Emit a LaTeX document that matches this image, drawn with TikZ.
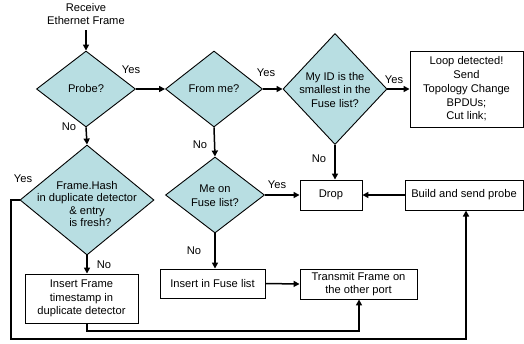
\documentclass[tikz,border=0pt]{standalone}
\usepackage{fontspec}
\setmainfont{Liberation Sans}
\usetikzlibrary{shapes.geometric,arrows.meta}
\definecolor{diafill}{RGB}{184,222,226}
\tikzset{
  x=1bp, y=-1bp,
  every node/.style={font=\fontsize{11.2}{13.8}\selectfont, inner sep=0pt, align=center},
  dia/.style={diamond, draw=black, line width=0.9bp, fill=diafill, inner sep=0pt},
  box/.style={rectangle, draw=black, line width=0.9bp, fill=white},
  conn/.style={line width=1.5bp, -{Triangle[length=6bp,width=6bp]}},
  plain/.style={line width=1.5bp},
  lbl/.style={font=\fontsize{11.2}{13.8}\selectfont}
}
\begin{document}
\begin{tikzpicture}
\useasboundingbox (0,0) rectangle (524,343);
% text start
\node (recv) at (86,14) {Receive\\Ethernet Frame};
% diamonds
\node[dia, minimum width=99bp, minimum height=76bp] (probe) at (86,89) {};
\node at (probe) {Probe?};
\node[dia, minimum width=97bp, minimum height=76bp] (fromme) at (214,89) {};
\node at (fromme) {From me?};
\node[dia, minimum width=104bp, minimum height=111bp] (myid) at (335,89) {};
\node at (335,90) {My ID is the\\smallest in the\\Fuse list?};
\node[dia, minimum width=134bp, minimum height=110bp] (hash) at (87,200) {};
\node[font=\fontsize{11.2}{12.4}\selectfont] at (87,204) {Frame.Hash\\in duplicate detector\\\& entry\\\hspace*{0.6em}is fresh?};
\node[dia, minimum width=99bp, minimum height=76bp] (meon) at (215,195) {};
\node at (215,196) {Me on\\Fuse list?};
% boxes
\node[box, minimum width=113bp, minimum height=76bp] (loop) at (466.5,89) {Loop detected!\\Send\\Topology Change\\BPDUs;\\Cut link;};
\node[box, minimum width=62bp, minimum height=30bp] (drop) at (331,195) {Drop};
\node[box, minimum width=118bp, minimum height=30bp] (build) at (464,195) {Build and send probe};
\node[box, minimum width=113bp, minimum height=49bp] (insf) at (81.5,298.5) {Insert Frame\\timestamp in\\duplicate detector};
\node[box, minimum width=105bp, minimum height=29bp] (insfuse) at (212.5,283.5) {Insert in Fuse list};
\node[box, minimum width=117bp, minimum height=30bp] (trans) at (358.5,284) {Transmit Frame on\\the other port};
% connectors
\draw[conn] (recv.south |- 0,30) -- (probe.north);
\draw[conn] (probe.east) -- (fromme.west);
\draw[conn] (fromme.east) -- (myid.west);
\draw[conn] (myid.east) -- (loop.west);
\draw[conn] (probe.south) -- (hash.north);
\draw[conn] (fromme.south) -- (meon.north);
\draw[conn] (myid.south) -- (myid.south |- drop.north);
\draw[conn] (meon.east) -- (drop.west);
\draw[conn] (build.west) -- (drop.east);
\draw[conn] (meon.south) -- (meon.south |- insfuse.north);
\draw[conn] (hash.south) -- (hash.south |- insf.north);
\draw[conn] (insfuse.east) -- (trans.west);
\coordinate (c1) at (11,339);
\draw[conn] (hash.west) -- (11,200) -- (c1) -- (466,339) -- (466,210.5);
\draw[conn] (87,323) -- (87,331) -- (359,331) -- (trans.south -| 359,0);
% labels
\node[lbl] at (131,70) {Yes};
\node[lbl] at (69,127) {No};
\node[lbl] at (266,73) {Yes};
\node[lbl] at (200,145) {No};
\node[lbl] at (394,80) {Yes};
\node[lbl] at (319,159) {No};
\node[lbl] at (23,179) {Yes};
\node[lbl] at (104,265) {No};
\node[lbl] at (277,185) {Yes};
\node[lbl] at (194,251) {No};
\end{tikzpicture}
\end{document}
